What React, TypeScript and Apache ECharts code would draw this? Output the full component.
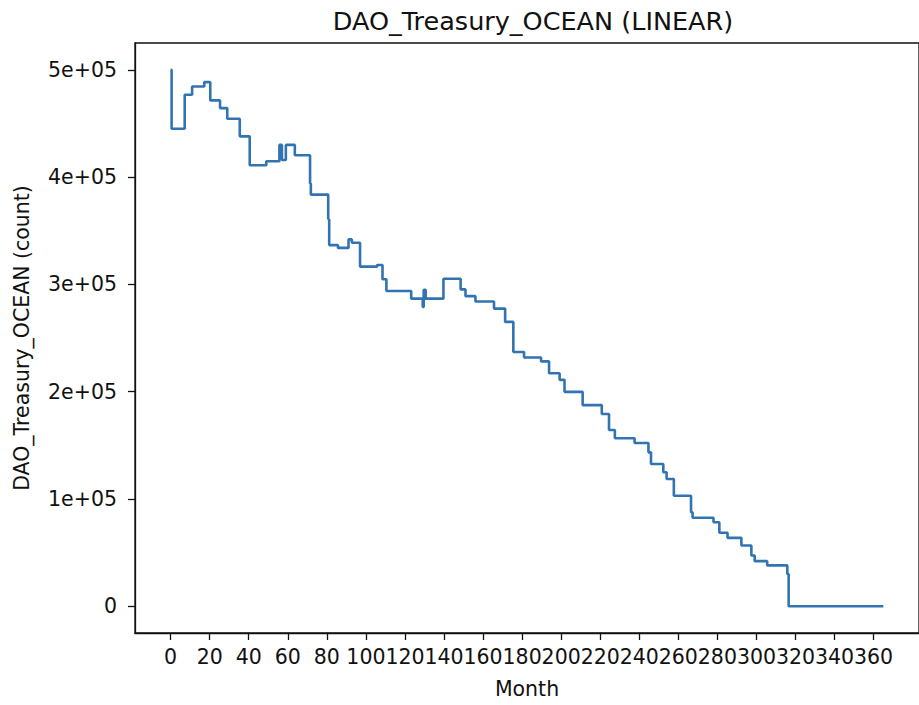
import React, { useEffect, useRef } from "react";
import * as echarts from "echarts";

const TITLE = "DAO_Treasury_OCEAN (LINEAR)";
const X_NAME = "Month";
const Y_NAME = "DAO_Treasury_OCEAN (count)";

// step change points: month at which the value takes effect
const months: number[] = [
  0, 0.5, 7.2, 11, 17.2, 20.3, 25.3, 29, 35.4, 40.5, 49, 55.7, 57, 59, 63.6,
  71.4, 71.8, 80.7, 81.2, 85.7, 91.1, 92.8, 97, 105.7, 108.5, 110.5, 123.2,
  129.1, 129.6, 130.6, 139.7, 148.5, 151, 156.1, 165.6, 171.3, 175.5, 181,
  189.7, 193.8, 199.2, 201.7, 211, 220.8, 224.5, 227.5, 237.6, 244.7, 246,
  252.3, 254, 257.7, 266.5, 267.3, 278, 281, 285.2, 292.3, 297.4, 299.1,
  305.5, 315.8, 316.5, 365,
];
const treasury: number[] = [
  500000, 445000, 476700, 484500, 488500, 471500, 464300, 454400, 438000,
  411000, 414700, 430000, 416000, 430000, 420300, 394000, 383700, 361000,
  336600, 334000, 341900, 338800, 316500, 318000, 304700, 293800, 286700,
  279000, 295000, 286700, 305300, 295300, 289000, 284000, 277400, 265000,
  237000, 231800, 228200, 217200, 211000, 199800, 187400, 179100, 164200,
  156500, 152100, 143400, 132600, 124800, 118600, 103000, 87600, 82500,
  78300, 68400, 63700, 56600, 47300, 42000, 38000, 30000, 0, 0,
];

const xTicks: number[] = [0, 20, 40, 60, 80, 100, 120, 140, 160, 180, 200, 220, 240, 260, 280, 300, 320, 340, 360];
const yTicks: number[] = [0, 100000, 200000, 300000, 400000, 500000];

const FONT = "DejaVu Sans";

export default function App() {
  const ref = useRef<HTMLDivElement>(null);
  useEffect(() => {
    if (!ref.current) return;
    const chart = echarts.init(ref.current, undefined, { renderer: "svg" });
    const data = months.map((m, i) => [m, treasury[i]]);
    chart.setOption({
      animation: false,
      backgroundColor: "#fff",
      title: {
        text: TITLE,
        left: 528,
        top: 3,
        textAlign: "center",
        textStyle: { fontFamily: FONT, fontSize: 25.5, fontWeight: "normal", color: "#111" },
      },
      grid: {
        left: 135,
        right: -8,
        top: 43,
        bottom: 72,
        show: true,
        borderColor: "#111",
        borderWidth: 1.3,
        backgroundColor: "transparent",
      },
      xAxis: {
        type: "value",
        min: -18.25,
        max: 383.25,
        name: X_NAME,
        nameLocation: "middle",
        nameGap: 45,
        nameTextStyle: { fontFamily: FONT, fontSize: 20.5, color: "#111" },
        splitLine: { show: false },
        axisLine: { show: true, onZero: false, lineStyle: { color: "#111", width: 1.3 } },
        axisTick: { show: true, length: 7, lineStyle: { color: "#111", width: 1.3 }, customValues: xTicks },
        axisLabel: {
          customValues: xTicks,
          margin: 13,
          fontFamily: FONT,
          fontSize: 20.5,
          color: "#111",
          hideOverlap: false,
          formatter: (v: number) => String(v),
        },
      },
      yAxis: {
        type: "value",
        min: -25000,
        max: 525000,
        name: Y_NAME,
        nameLocation: "middle",
        nameGap: 103,
        nameTextStyle: { fontFamily: FONT, fontSize: 20.5, color: "#111" },
        splitLine: { show: false },
        axisLine: { show: true, onZero: false, lineStyle: { color: "#111", width: 1.3 } },
        axisTick: { show: true, length: 7, lineStyle: { color: "#111", width: 1.3 }, customValues: yTicks },
        axisLabel: {
          customValues: yTicks,
          margin: 18,
          fontFamily: FONT,
          fontSize: 20.5,
          color: "#111",
          formatter: (v: number) => (v === 0 ? "0" : `${Math.round(v / 100000)}e+05`),
        },
      },
      series: [
        {
          type: "line",
          data,
          step: "end",
          showSymbol: false,
          symbol: "none",
          lineStyle: { color: "#3274b2", width: 2.6 },
        },
      ],
    });
    return () => chart.dispose();
  }, []);
  return (
    <div
      ref={ref}
      style={{ position: "fixed", left: 0, top: 0, width: 919, height: 705 }}
    />
  );
}
